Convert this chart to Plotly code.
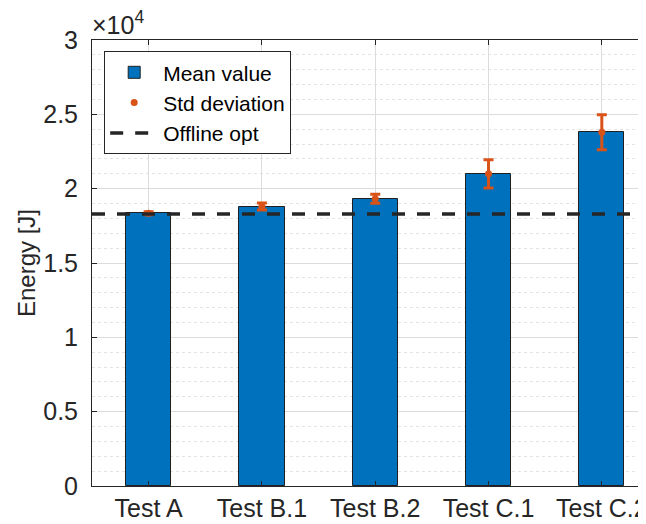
import plotly.graph_objects as go

categories = ["Test A", "Test B.1", "Test B.2", "Test C.1", "Test C.2"]
mean_values = [18350, 18800, 19320, 21000, 23800]
std_values = [100, 230, 300, 950, 1180]
offline_opt = 18290
y_tick_vals = [0, 5000, 10000, 15000, 20000, 25000, 30000]
y_tick_text = ["0", "0.5", "1", "1.5", "2", "2.5", "3"]

x_pos = list(range(1, len(categories) + 1))

FONT = "Liberation Sans, Arial, Helvetica, sans-serif"
AX = "#262626"

fig = go.Figure()

fig.add_trace(go.Bar(
    x=x_pos, y=mean_values, width=0.4, name="Mean value",
    marker=dict(color="#0072BD", line=dict(color="#1f1f1f", width=1)),
))

fig.add_trace(go.Scatter(
    x=x_pos, y=mean_values, mode="markers", name="Std deviation",
    marker=dict(color="#D95319", size=7, symbol="circle"),
    error_y=dict(type="data", array=std_values, visible=True,
                 color="#D95319", thickness=3, width=5),
))

fig.add_trace(go.Scatter(
    x=[0.5, 5.5], y=[offline_opt, offline_opt], mode="lines", name="Offline opt",
    line=dict(color=AX, width=3.5, dash="13px,12px"),
))

fig.update_layout(
    width=638, height=516,
    margin=dict(l=84, r=0, t=32, b=38, autoexpand=False),
    paper_bgcolor="white", plot_bgcolor="white",
    font=dict(family=FONT, size=22, color=AX),
    showlegend=True,
    legend=dict(
        x=0.022, y=0.975, xanchor="left", yanchor="top",
        bgcolor="white", bordercolor=AX, borderwidth=1,
        font=dict(size=21, color="black"),
        itemwidth=48, tracegroupgap=0,
    ),
    bargap=0,
)

fig.update_xaxes(
    range=[0.5, 5.39],
    tickvals=x_pos, ticktext=categories,
    ticks="inside", ticklen=5, tickcolor=AX,
    showline=True, linecolor=AX, linewidth=1, mirror="ticks",
    showgrid=True, gridcolor="#dcdcdc", gridwidth=1,
    zeroline=False,
    tickfont=dict(size=25, color=AX),
    ticklabeloverflow="allow",
    automargin=False,
)

fig.update_yaxes(
    range=[0, 30000],
    tickvals=y_tick_vals, ticktext=y_tick_text,
    ticks="inside", ticklen=5, tickcolor=AX,
    showline=True, linecolor=AX, linewidth=1, mirror="ticks",
    showgrid=True, gridcolor="#dcdcdc", gridwidth=1,
    zeroline=False,
    tickfont=dict(size=25, color=AX),
    ticklabelstandoff=8,
    minor=dict(dtick=1000, tick0=0, showgrid=True, gridcolor="#e3e3e3",
               griddash="dot", gridwidth=1, ticks=""),
    title=dict(text="Energy [J]", font=dict(size=24, color=AX), standoff=0),
    automargin=False,
)

fig.add_annotation(
    x=0, y=1, xref="paper", yref="paper", xanchor="left", yanchor="bottom",
    text="×10<sup>4</sup>", showarrow=False, yshift=-1, xshift=-2,
    font=dict(size=25, color=AX),
)

fig.write_html("out.html")
